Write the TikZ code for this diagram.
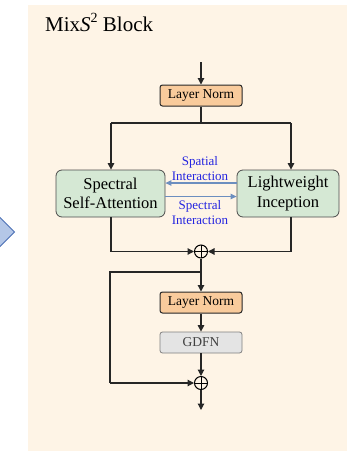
\documentclass[tikz,border=0pt]{standalone}
\usepackage{fontspec}
\setmainfont{Liberation Serif}
\usetikzlibrary{arrows.meta}
\definecolor{bgc}{HTML}{FEF4E6}
\definecolor{lnfill}{HTML}{F9CB9C}
\definecolor{grfill}{HTML}{D5E8D4}
\definecolor{gdfill}{HTML}{E4E4E4}
\definecolor{arrblue}{HTML}{6C8EBF}
\definecolor{txtblue}{HTML}{2424E0}
\definecolor{chevfill}{HTML}{B4C7E7}
\definecolor{chevline}{HTML}{4A6FB5}
\begin{document}
\begin{tikzpicture}[x=1pt,y=-1pt,
  conn/.style={draw=black!85,line width=1.2pt},
  arr/.style={conn,-{Triangle[length=6.5pt,width=6.5pt]}},
  lnbox/.style={draw=black!85,line width=1pt,fill=lnfill,rounded corners=2.5pt,minimum width=82pt,minimum height=21pt,inner sep=0pt,font=\fontsize{13.5}{15}\selectfont},
  grbox/.style={draw=black!70,line width=0.8pt,fill=grfill,rounded corners=6pt,minimum height=47pt,inner sep=0pt,align=center,font=\fontsize{16.5}{19.5}\selectfont},
  gdbox/.style={draw=black!50,line width=0.8pt,fill=gdfill,rounded corners=2.5pt,minimum width=82pt,minimum height=21pt,inner sep=0pt,text=black!75,font=\fontsize{13.5}{15}\selectfont},
  sumnode/.style={circle,draw=black,line width=1pt,minimum size=13pt,inner sep=0pt,
     path picture={\draw[line width=0.8pt] (path picture bounding box.north) -- (path picture bounding box.south) (path picture bounding box.west) -- (path picture bounding box.east);}},
  lbl/.style={text=txtblue,align=center,font=\fontsize{13}{15}\selectfont,inner sep=0pt},
  barr/.style={draw=arrblue,line width=1.1pt,-{Triangle[length=6pt,width=5.5pt]}}
]
\useasboundingbox (0,0) rectangle (347,451);
\fill[bgc] (28,5) rectangle (347,451);
\draw[chevline,fill=chevfill,line width=1pt] (-4,213.5) -- (14.5,232) -- (-4,250.5) -- cycle;

\node[anchor=base west,inner sep=0pt,font=\fontsize{21}{24}\selectfont] (title) at (45,31) {Mix\textit{S}\raisebox{0.42em}{\fontsize{14}{14}\selectfont 2} Block};

\coordinate (in) at (201,62);
\node[lnbox] (ln1) at (201,95.5) {Layer Norm};
\coordinate (split) at (201,123);
\coordinate (lsplit) at (111,123);
\coordinate (rsplit) at (291,123);
\node[grbox,minimum width=109pt] (ssa) at (110.5,193.5) {Spectral\\Self-Attention};
\node[grbox,minimum width=102pt] (li) at (288,193.5) {Lightweight\\Inception};
\node[sumnode] (sum1) at (201,251.5) {};
\coordinate (lj) at (111,251.5);
\coordinate (rj) at (291,251.5);
\coordinate (br) at (201,272);
\coordinate (bl) at (110,272);
\coordinate (bl2) at (110,383);
\node[lnbox] (ln2) at (201,302.5) {Layer Norm};
\node[gdbox] (gd) at (201,342.5) {GDFN};
\node[sumnode] (sum2) at (201,383) {};
\coordinate (out) at (201,410);

\draw[arr] (in) -- (ln1.north);
\draw[conn] (ln1.south) -- (split);
\draw[conn] (lsplit) -- (rsplit);
\draw[arr] (lsplit) -- (lsplit|-ssa.north);
\draw[arr] (rsplit) -- (rsplit|-li.north);

\draw[barr] (li.west|-0,183) -- (ssa.east|-0,183);
\draw[barr] (ssa.east|-0,196.5) -- (li.west|-0,196.5);
\node[lbl] (l1) at (200,168.5) {Spatial\\Interaction};
\node[lbl] (l2) at (200,213) {Spectral\\Interaction};

\draw[conn] (lj|-ssa.south) -- (lj);
\draw[arr] (lj) -- (sum1.west);
\draw[conn] (rj|-li.south) -- (rj);
\draw[arr] (rj) -- (sum1.east);
\draw[conn] (sum1.south) -- (br);
\draw[arr] (br) -- (ln2.north);
\draw[conn] (br) -- (bl) -- (bl2);
\draw[arr] (bl2) -- (sum2.west);
\draw[arr] (ln2.south) -- (gd.north);
\draw[arr] (gd.south) -- (sum2.north);
\draw[arr] (sum2.south) -- (out);
\end{tikzpicture}
\end{document}
